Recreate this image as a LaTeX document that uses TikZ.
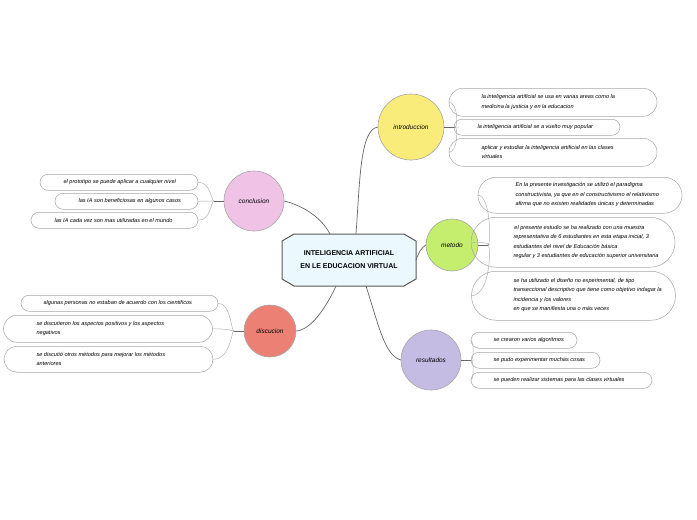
\documentclass[tikz,border=0pt]{standalone}
\usepackage{fontspec}
\setmainfont{Liberation Sans}
\usetikzlibrary{shapes.geometric,shapes.misc}
\begin{document}
\begin{tikzpicture}[x=1pt,y=-1pt,
  topic/.style={circle,draw=gray!70,line width=0.6pt,minimum size=#1,inner sep=0pt,font=\fontsize{6.5}{8}\selectfont\itshape},
  leaf/.style={rounded rectangle,draw=gray!70,line width=0.5pt,anchor=north west,minimum height=#1,inner sep=0pt},
  lt/.style={font=\fontsize{5.6}{9.5}\selectfont\itshape,align=left,anchor=west},
  conn/.style={draw=gray!80!black,line width=0.7pt},
  br/.style={draw=gray!60,line width=0.5pt}]
\useasboundingbox[fill=white] (0,0) rectangle (697,520);
% center
\node[draw=gray!70!black,line width=1pt,fill=cyan!8!white,chamfered rectangle,chamfered rectangle xsep=6pt,chamfered rectangle angle=60,minimum width=134pt,minimum height=52pt,align=center,font=\fontsize{7}{13}\selectfont\bfseries] (c) at (349,260) {INTELIGENCIA ARTIFICIAL\\EN LE EDUCACION VIRTUAL};
% topics
\node[topic=66pt,fill={rgb,255:red,249;green,236;blue,123}] (intro) at (411,127) {introduccion};
\node[topic=52pt,fill={rgb,255:red,197;green,238;blue,110}] (met) at (452,245) {metodo};
\node[topic=60pt,fill={rgb,255:red,197;green,188;blue,227}] (res) at (431,360) {resultados};
\node[topic=60pt,fill={rgb,255:red,240;green,194;blue,230}] (con) at (254,201) {conclusion};
\node[topic=52pt,fill={rgb,255:red,236;green,128;blue,117}] (dis) at (270,331) {discucion};
% main connectors
\draw[conn] (c.north) ++(0,-1) coordinate (c1) (356,234) .. controls (360,180) and (360,130) .. (intro.west);
\draw[conn] (416,260) .. controls (420,250) .. (met.west);
\draw[conn] (366,286) .. controls (380,330) and (385,355) .. (res.west);
\draw[conn] (330,234) .. controls (320,215) and (300,205) .. (con.east);
\draw[conn] (336,286) .. controls (325,310) and (310,330) .. (dis.east);
% intro leaves
\node[leaf=28pt,minimum width=208pt] (i1) at (463,88) {};
\node[lt] at (478,102) {la inteligencia artificial se usa en varias areas como la\\medicina la justicia y en la educacion};
\node[leaf=16pt,minimum width=166pt] (i2) at (462,119) {};
\node[lt] at (474,127) {la inteligencia artificial se a vuelto muy popular};
\node[leaf=28pt,minimum width=208pt] (i3) at (463,138) {};
\node[lt] at (478,152) {aplicar y estudiar la inteligencia artificial en las clases\\virtuales};
\coordinate (ib) at (455,127);
\draw[conn] (intro.east) -- (ib);
\foreach \n in {i1,i2,i3} \draw[br] (ib) .. controls (458,127) and (458,0|-\n.west) .. (\n.west);
% metodo leaves
\node[leaf=36pt,minimum width=204pt] (m1) at (496,177) {};
\node[lt] at (512,195) {En la presente investigación se utilizó el paradigma\\constructivista, ya que en el constructivismo el relativismo\\afirma que no existen realidades únicas y determinadas};
\node[leaf=50pt,minimum width=204pt] (m2) at (496,217) {};
\node[lt] at (510,242) {\,el presente estudio se ha realizado con una muestra\\representativa de 6 estudiantes en esta etapa inicial, 3\\estudiantes del nivel de Educación básica\\regular y 3 estudiantes de educación superior universitaria};
\node[leaf=49pt,minimum width=204pt] (m3) at (496,271) {};
\node[lt] at (510,295) {se ha utilizado el diseño no experimental, de tipo\\transeccional descriptivo que tiene como objetivo indagar la\\incidencia y los valores\\en que se manifiesta una o más veces};
\coordinate (mb) at (488,245);
\draw[conn] (met.east) -- (mb);
\foreach \n in {m1,m2,m3} \draw[br] (mb) .. controls (491,245) and (491,0|-\n.west) .. (\n.west);
% resultados leaves
\node[leaf=16pt,minimum width=106pt] (r1) at (479,332) {};
\node[lt] at (490,340) {se crearon varios algoritmos};
\node[leaf=16pt,minimum width=129pt] (r2) at (479,352) {};
\node[lt] at (490,360) {se pudo experimentar muchas cosas};
\node[leaf=16pt,minimum width=181pt] (r3) at (479,372) {};
\node[lt] at (490,380) {se pueden realizar sistemas para las clases virtuales};
\coordinate (rb) at (471,360);
\draw[conn] (res.east) -- (rb);
\foreach \n in {r1,r2,r3} \draw[br] (rb) .. controls (474,360) and (474,0|-\n.west) .. (\n.west);
% conclusion leaves
\node[leaf=16pt,minimum width=158pt] (k1) at (48,174) {};
\node[lt] at (60,182) {el prototipo se puede aplicar a cualquier nivel};
\node[leaf=16pt,minimum width=143pt] (k2) at (63,193) {};
\node[lt] at (75,201) {las IA son beneficiosas en algunos casos};
\node[leaf=16pt,minimum width=167pt] (k3) at (39,212) {};
\node[lt] at (51,220) {las IA cada vez son mas utilizadas en el mundo};
\coordinate (kb) at (214,201);
\draw[conn] (con.west) -- (kb);
\foreach \n in {k1,k2,k3} \draw[br] (kb) .. controls (211,201) and (211,0|-\n.east) .. (\n.east);
% discucion leaves
\node[leaf=16pt,minimum width=197pt] (d1) at (29,295) {};
\node[lt] at (40,303) {algunas personas no estaban de acuerdo con los cientificos};
\node[leaf=27pt,minimum width=209pt] (d2) at (17,315) {};
\node[lt] at (33,328.5) {se discutieron los aspectos positivos y los aspectos\\negativos};
\node[leaf=26pt,minimum width=209pt] (d3) at (17,346) {};
\node[lt] at (33,359) {se discutió otros métodos para mejorar los métodos\\anteriores};
\coordinate (db) at (234,331);
\draw[conn] (dis.west) -- (db);
\foreach \n in {d1,d2,d3} \draw[br] (db) .. controls (231,331) and (231,0|-\n.east) .. (\n.east);
\end{tikzpicture}
\end{document}
